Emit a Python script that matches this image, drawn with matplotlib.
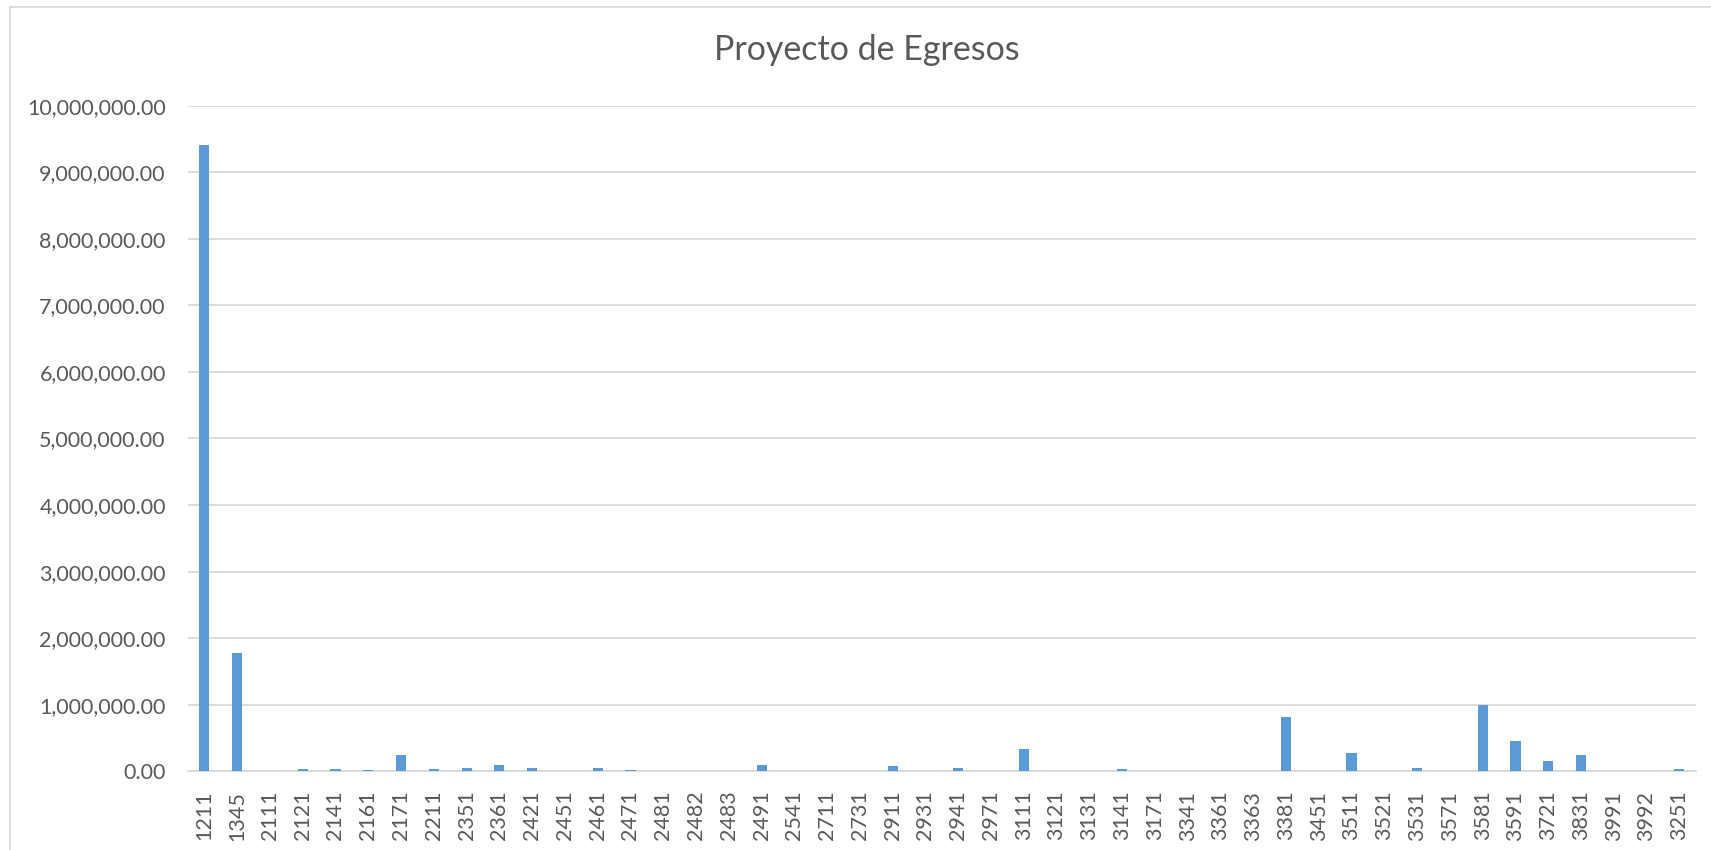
import matplotlib
matplotlib.use("Agg")
import matplotlib.pyplot as plt
from matplotlib.ticker import FuncFormatter
from matplotlib.patches import Rectangle

categories = ["1211", "1345", "2111", "2121", "2141", "2161", "2171", "2211", "2351", "2361",
              "2421", "2451", "2461", "2471", "2481", "2482", "2483", "2491", "2541", "2711",
              "2731", "2911", "2931", "2941", "2971", "3111", "3121", "3131", "3141", "3171",
              "3341", "3361", "3363", "3381", "3451", "3511", "3521", "3531", "3571", "3581",
              "3591", "3721", "3831", "3991", "3992", "3251"]
values = [9410000, 1770000, 10000, 30000, 30000, 15000, 240000, 35000, 45000, 95000,
          45000, 0, 45000, 15000, 0, 0, 0, 100000, 0, 0,
          0, 75000, 0, 45000, 0, 330000, 0, 0, 30000, 0,
          5000, 0, 10000, 810000, 0, 270000, 0, 45000, 0, 1000000,
          450000, 150000, 240000, 0, 0, 30000]
yticks = [0, 1000000, 2000000, 3000000, 4000000, 5000000, 6000000, 7000000, 8000000, 9000000, 10000000]

FONT = ["Lato", "DejaVu Sans"]
TXT = "#595959"

fig = plt.figure(figsize=(17.11, 8.5), dpi=100)
ax = fig.add_axes([188 / 1711, 1 - 771.3 / 850, (1695.7 - 188) / 1711, (771.3 - 105.7) / 850])

x = list(range(len(categories)))
ax.bar(x, values, width=0.31, color="#5B9BD5", zorder=3)

ax.set_xlim(-0.5, len(categories) - 0.5)
ax.set_ylim(0, 10000000)
ax.set_yticks(yticks)
ax.yaxis.set_major_formatter(FuncFormatter(lambda v, p: f"{v:,.2f}"))
ax.set_xticks(x)
ax.set_xticklabels(categories, rotation=90)
ax.grid(axis="y", color="#D9D9D9", linewidth=1.3, zorder=0)
for s in ["top", "right", "left"]:
    ax.spines[s].set_visible(False)
ax.spines["bottom"].set_color("#D9D9D9")
ax.spines["bottom"].set_linewidth(1.3)
ax.tick_params(axis="both", length=0, colors=TXT, labelsize=15.5)
ax.tick_params(axis="y", pad=16)
ax.tick_params(axis="x", pad=14)
for lab in ax.get_xticklabels() + ax.get_yticklabels():
    lab.set_family(FONT)
    lab.set_color(TXT)

fig.text(867 / 1711, 1 - 50.5 / 850, "Proyecto de Egresos", ha="center", va="center",
         fontsize=24.5, color=TXT, family=FONT)

fig.patches.append(Rectangle((10 / 1711, -0.1), 1.2, (850 - 7) / 850 + 0.1, transform=fig.transFigure,
                             fill=False, edgecolor="#D9D9D9", linewidth=1.3, zorder=0))

fig.savefig("out.png", dpi=100, facecolor="white")
